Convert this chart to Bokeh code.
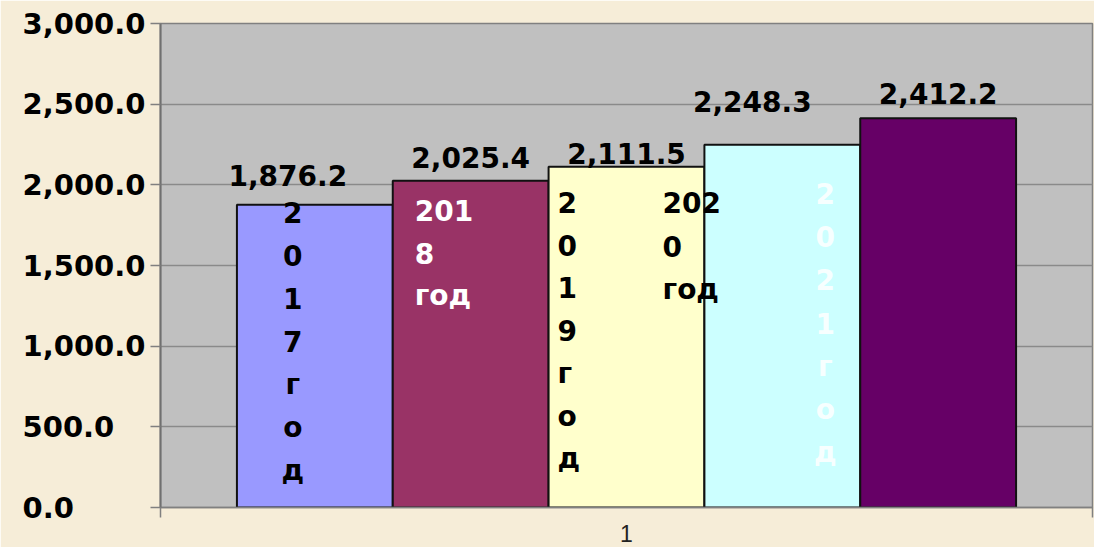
from bokeh.plotting import figure
from bokeh.models import ColumnDataSource, FixedTicker, Range1d
from bokeh.embed import file_html
from bokeh.resources import INLINE
from bokeh.core.properties import value

# ---------------- data ----------------
categories = ["1"]
series = ["2017 год", "2018 год", "2019 год", "2020 год", "2021 год"]
values = [1876.2, 2025.4, 2111.5, 2248.3, 2412.2]
colors = ["#9999FF", "#993366", "#FFFFCC", "#CCFFFF", "#660066"]
y_ticks = [0, 500, 1000, 1500, 2000, 2500, 3000]
y_tick_labels = ["0.0", "500.0", "1,000.0", "1,500.0", "2,000.0", "2,500.0", "3,000.0"]
# series-name labels as they are wrapped inside the bars
inside_lines = [
    ["2", "0", "1", "7", "г", "о", "д"],
    ["201", "8", "год"],
    ["2", "0", "1", "9", "г", "о", "д"],
    ["202", "0", "год"],
    ["2", "0", "2", "1", "г", "о", "д"],
]

# ---------------- layout / style ----------------
BG = "#F6EDD8"
FONT = value("DejaVu Sans")
bar_w = 0.1672
n = len(values)
xc = [0.5 + (i - (n - 1) / 2) * bar_w for i in range(n)]

val_dx = [-27, 0, 0, -30, 0]
val_dy = [-29, -23, -13, -43, -25]

lab_bar = [0, 1, 2, 2, 3]
lab_dx = [-22, -56, -69, 36, 43]
lab_first = [189, 187, 179, 179, 170]   # px below frame top of first baseline
lab_step = [43.0, 42.5, 42.7, 43.5, 43.2]
lab_align = ["center", "left", "left", "left", "center"]
lab_color = ["black", "white", "black", "black", "white"]
lab_alpha = [1.0, 1.0, 1.0, 1.0, 0.85]


def left_pad(label, ref):
    """pad on the right with figure/punctuation spaces so right-aligned labels look left-aligned"""
    digits = lambda s: sum(ch.isdigit() for ch in s)
    punct = lambda s: sum(ch in ",." for ch in s)
    return label + "\u2008" * (punct(ref) - punct(label)) + "\u2007" * (digits(ref) - digits(label))


longest = max(y_tick_labels, key=len)

p = figure(width=1094, height=547, output_backend="svg", toolbar_location=None,
           x_range=Range1d(0, 1), y_range=Range1d(0, 3000),
           frame_width=932, frame_height=484,
           min_border_left=160, min_border_right=2, min_border_top=23, min_border_bottom=40)
p.background_fill_color = "#C0C0C0"
p.border_fill_color = BG
p.outline_line_color = "#808080"
p.outline_line_width = 1.5

bars = ColumnDataSource(dict(x=xc, top=values, color=colors, name=series,
                             lbl=[f"{v:,.1f}" for v in values],
                             dx=val_dx, dy=val_dy))
p.vbar(x="x", top="top", bottom=0, width=bar_w, fill_color="color",
       line_color="#111111", line_width=2, source=bars)

p.text(x="x", y="top", text="lbl", x_offset="dx", y_offset="dy",
       text_align="center", text_baseline="middle", text_font=FONT,
       text_font_style="bold", text_font_size="28px", text_color="black", source=bars)

# inside labels, one row per line
lx, ly, lt, ldx, ldy, lal, lcol, lalpha = [], [], [], [], [], [], [], []
for k, lines in enumerate(inside_lines):
    for j, t in enumerate(lines):
        lx.append(xc[lab_bar[k]])
        ly.append(3000)
        lt.append(t)
        ldx.append(lab_dx[k])
        ldy.append(lab_first[k] + j * lab_step[k])
        lal.append(lab_align[k])
        lcol.append(lab_color[k])
        lalpha.append(lab_alpha[k])
ins = ColumnDataSource(dict(x=lx, y=ly, t=lt, dx=ldx, dy=ldy, al=lal, c=lcol, a=lalpha))
p.text(x="x", y="y", text="t", x_offset="dx", y_offset="dy", text_align="al",
       text_baseline="alphabetic", text_font=FONT, text_font_style="bold",
       text_font_size="28px", text_color="c", text_alpha="a", source=ins)

# x axis
p.xaxis.ticker = FixedTicker(ticks=[0.5], minor_ticks=[0.0, 1.0])
p.xaxis.major_label_overrides = {0.5: categories[0]}
p.xaxis.major_tick_out = 0
p.xaxis.major_tick_in = 0
p.xaxis.minor_tick_out = 10
p.xaxis.minor_tick_in = 0
p.xaxis.minor_tick_line_color = "#808080"
p.xaxis.minor_tick_line_width = 1.5
p.xaxis.axis_line_color = "#808080"
p.xaxis.axis_line_width = 1.5
p.xaxis.major_label_text_font = "Liberation Sans"
p.xaxis.major_label_text_font_size = "23px"
p.xaxis.major_label_text_color = "#222222"
p.xaxis.major_label_standoff = 7

# y axis
p.yaxis.ticker = FixedTicker(ticks=y_ticks)
p.yaxis.major_label_overrides = {t: left_pad(l, longest) for t, l in zip(y_ticks, y_tick_labels)}
p.yaxis.major_label_text_font = "DejaVu Sans"
p.yaxis.major_label_text_font_style = "bold"
p.yaxis.major_label_text_font_size = "29px"
p.yaxis.major_label_text_color = "black"
p.yaxis.major_label_standoff = 5
p.yaxis.major_tick_out = 10
p.yaxis.major_tick_in = 0
p.yaxis.major_tick_line_color = "#808080"
p.yaxis.major_tick_line_width = 1.5
p.yaxis.minor_tick_line_color = None
p.yaxis.axis_line_color = "#707070"
p.yaxis.axis_line_width = 2

p.xgrid.grid_line_color = None
p.ygrid.ticker = FixedTicker(ticks=y_ticks)
p.ygrid.grid_line_color = "#8a8a8a"
p.ygrid.grid_line_width = 1.5

html = file_html(p, INLINE)
html = html.replace("<body>", '<body style="background-color:%s;">' % BG, 1)
open("out.html", "w").write(html)
